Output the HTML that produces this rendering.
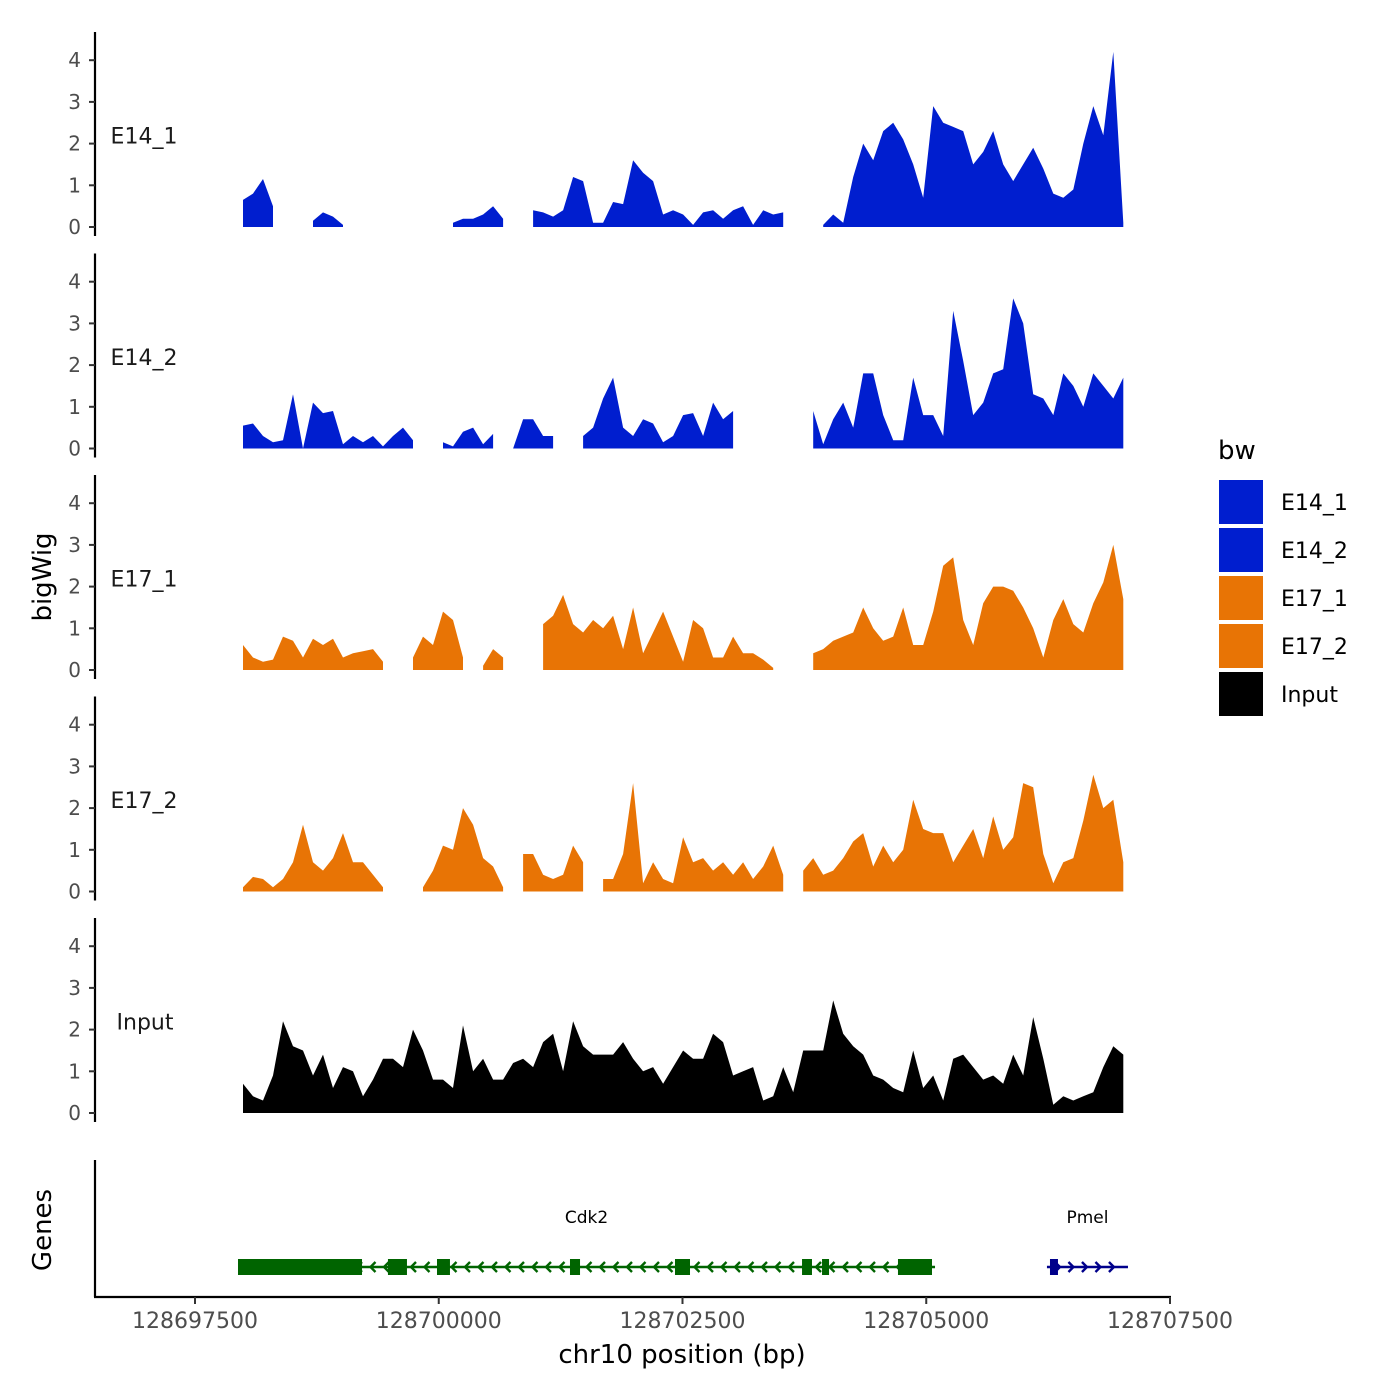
<!DOCTYPE html>
<html><head><meta charset="utf-8"><style>
body{margin:0;background:#fff;}
svg{display:block;font-family:"DejaVu Sans","Liberation Sans",sans-serif;}
</style></head><body>
<svg id="chart" width="1400" height="1400" viewBox="0 0 1400 1400"></svg>
<script>
// ---- data ----
const trackNames = ["E14_1","E14_2","E17_1","E17_2","Input"];
const trackColors = ["#001ecf","#001ecf","#e87405","#e87405","#000000"];
const binStartBp = 128697992;
const binStepBp = 102.6;
const yTicks = [0,1,2,3,4];
const xTicks = [128697500,128700000,128702500,128705000,128707500];
const N = null;
const e14_1 = [0.65,0.8,1.15,0.5,N,N,N,0.15,0.35,0.25,0.05,N,N,N,N,N,N,N,N,N,N,0.1,0.2,0.2,0.3,0.5,0.2,N,N,0.4,0.35,0.25,0.4,1.2,1.1,0.1,0.1,0.6,0.55,1.6,1.3,1.1,0.3,0.4,0.3,0.05,0.35,0.4,0.2,0.4,0.5,0.05,0.4,0.3,0.35,N,N,N,0.05,0.3,0.1,1.2,2.0,1.6,2.3,2.5,2.1,1.5,0.7,2.9,2.5,2.4,2.3,1.5,1.8,2.3,1.5,1.1,1.5,1.9,1.4,0.8,0.7,0.9,2.0,2.9,2.2,4.2,0.1];
const e14_2 = [0.55,0.6,0.3,0.15,0.2,1.3,0,1.1,0.85,0.9,0.1,0.3,0.15,0.3,0.05,0.3,0.5,0.2,N,N,0.15,0.05,0.4,0.5,0.1,0.35,N,0,0.7,0.7,0.3,0.3,N,N,0.3,0.5,1.2,1.7,0.5,0.3,0.7,0.6,0.15,0.3,0.8,0.85,0.3,1.1,0.7,0.9,N,N,N,N,N,N,N,0.9,0.1,0.7,1.1,0.5,1.8,1.8,0.8,0.2,0.2,1.7,0.8,0.8,0.3,3.3,2.1,0.8,1.1,1.8,1.9,3.6,3.0,1.3,1.2,0.8,1.8,1.5,1.0,1.8,1.5,1.2,1.7];
const e17_1 = [0.6,0.3,0.2,0.25,0.8,0.7,0.3,0.75,0.6,0.75,0.3,0.4,0.45,0.5,0.2,N,N,0.3,0.8,0.6,1.4,1.2,0.3,N,0.1,0.5,0.3,N,N,N,1.1,1.3,1.8,1.1,0.9,1.2,1.0,1.3,0.5,1.5,0.4,0.9,1.4,0.8,0.2,1.2,1.0,0.3,0.3,0.8,0.4,0.4,0.25,0.05,N,0.15,N,0.4,0.5,0.7,0.8,0.9,1.5,1.0,0.7,0.8,1.5,0.6,0.6,1.4,2.5,2.7,1.2,0.6,1.6,2.0,2.0,1.9,1.5,1.0,0.3,1.2,1.7,1.1,0.9,1.6,2.1,3.0,1.7];
const e17_2 = [0.1,0.35,0.3,0.1,0.3,0.7,1.6,0.7,0.5,0.8,1.4,0.7,0.7,0.4,0.1,N,N,N,0.1,0.5,1.1,1.0,2.0,1.6,0.8,0.6,0.1,N,0.9,0.9,0.4,0.3,0.4,1.1,0.7,N,0.3,0.3,0.9,2.6,0.2,0.7,0.3,0.2,1.3,0.7,0.8,0.5,0.7,0.4,0.7,0.3,0.6,1.1,0.4,N,0.5,0.8,0.4,0.5,0.8,1.2,1.4,0.6,1.1,0.7,1.0,2.2,1.5,1.4,1.4,0.7,1.1,1.5,0.8,1.8,1.0,1.3,2.6,2.5,0.9,0.2,0.7,0.8,1.7,2.8,2.0,2.2,0.7];
const input = [0.7,0.4,0.3,0.9,2.2,1.6,1.5,0.9,1.4,0.6,1.1,1.0,0.4,0.8,1.3,1.3,1.1,2.0,1.5,0.8,0.8,0.6,2.1,1.0,1.3,0.8,0.8,1.2,1.3,1.1,1.7,1.9,1.0,2.2,1.6,1.4,1.4,1.4,1.7,1.3,1.0,1.1,0.7,1.1,1.5,1.3,1.3,1.9,1.7,0.9,1.0,1.1,0.3,0.4,1.1,0.5,1.5,1.5,1.5,2.7,1.9,1.6,1.4,0.9,0.8,0.6,0.5,1.5,0.6,0.9,0.3,1.3,1.4,1.1,0.8,0.9,0.7,1.4,0.9,2.3,1.3,0.2,0.4,0.3,0.4,0.5,1.1,1.6,1.4];
const trackValues = [e14_1,e14_2,e17_1,e17_2,input];
// genes
const cdk2Range = [128697941,128705090];
const cdk2Exons = [[128697941,128699213],[128699479,128699674],[128699982,128700115],[128701346,128701449],[128702423,128702577],[128703726,128703828],[128703931,128704003],[128704710,128705059]];
const pmelRange = [128706238,128707069];
const pmelExons = [[128706269,128706351]];

// ---- scales ----
const NS="http://www.w3.org/2000/svg";
const svg=document.getElementById('chart');
function xS(bp){return 195+(bp-128697500)*0.0975;}
const panelTop0=32, panelH=204, panelStep=221.5, unit=41.7;
function y0(i){return 227+i*panelStep;}
function yS(i,v){return y0(i)-v*unit;}
function mk(tag,attrs,parent){const e=document.createElementNS(NS,tag);for(const k in attrs)e.setAttribute(k,attrs[k]);(parent||svg).appendChild(e);return e;}
function txt(s,attrs,parent){const e=mk('text',attrs,parent);e.textContent=s;return e;}

trackNames.forEach((name,i)=>{
  const g=mk('g',{});
  
  
  const vals=trackValues[i];
  let seg=[];
  const segs=[];
  vals.forEach((v,j)=>{ if(v===null){if(seg.length)segs.push(seg);seg=[];} else seg.push([binStartBp+j*binStepBp,v]); });
  if(seg.length)segs.push(seg);
  segs.forEach(s=>{
    let d='M'+xS(s[0][0]).toFixed(1)+','+y0(i);
    s.forEach(p=>{d+=' L'+xS(p[0]).toFixed(1)+','+yS(i,p[1]).toFixed(1);});
    d+=' L'+xS(s[s.length-1][0]).toFixed(1)+','+y0(i)+' Z';
    const a=mk('path',{d:d,fill:trackColors[i]},g);
    
    
  });
  const top=panelTop0+i*panelStep;
  const ax=mk('line',{x1:95,x2:95,y1:top,y2:top+panelH,stroke:'#000','stroke-width':2.2},g);
  
  
  yTicks.forEach(t=>{
    const y=yS(i,t);
    mk('line',{x1:89,x2:95,y1:y,y2:y,stroke:'#333','stroke-width':2},g);
    const tl=txt(String(t),{x:81,y:y+7,'text-anchor':'end','font-size':20,fill:'#4d4d4d'},g);
    
    
  });
  const lb=txt(name,{x:name==='Input'?145:144,y:yS(i,2.2)+8,'text-anchor':'middle','font-size':22,fill:'#1a1a1a'},g);
  
  
});

const yt=txt('bigWig',{x:0,y:0,transform:'translate(51,577) rotate(-90)','text-anchor':'middle','font-size':26,fill:'#000'});



const gp=mk('g',{});


mk('line',{x1:95,x2:95,y1:1160,y2:1297,stroke:'#000','stroke-width':2.2},gp);
mk('line',{x1:94,x2:1171,y1:1297,y2:1297,stroke:'#000','stroke-width':2.2},gp);
const gt=txt('Genes',{x:0,y:0,transform:'translate(51,1230) rotate(-90)','text-anchor':'middle','font-size':26,fill:'#000'},gp);


xTicks.forEach(t=>{
  const x=xS(t);
  mk('line',{x1:x,x2:x,y1:1297,y2:1304,stroke:'#333','stroke-width':2},gp);
  const l=txt(String(t),{x:x,y:1328,'text-anchor':'middle','font-size':22,fill:'#4d4d4d'},gp);
  
  
});
const xt=txt('chr10 position (bp)',{x:682,y:1363,'text-anchor':'middle','font-size':26,fill:'#000'},gp);



function drawGene(name,range,exons,color,dir){
  const g=mk('g',{},gp);
  
  
  const yc=1267;
  const x1=xS(range[0]),x2=xS(range[1]);
  mk('line',{x1:x1,x2:x2,y1:yc,y2:yc,stroke:color,'stroke-width':2.5},g);
  for(let x=x1+12;x<x2-6;x+=13.5){
    const d=dir<0?`M${x+4},${yc-5} L${x-1},${yc} L${x+4},${yc+5}`:`M${x-4},${yc-5} L${x+1},${yc} L${x-4},${yc+5}`;
    mk('path',{d:d,stroke:color,'stroke-width':2.4,fill:'none'},g);
  }
  exons.forEach(e=>{
    const r=mk('rect',{x:xS(e[0]),y:yc-8,width:Math.max(4,xS(e[1])-xS(e[0])),height:16,fill:color},g);
    
    
  });
  const l=txt(name,{x:(x1+x2)/2,y:1223,'text-anchor':'middle','font-size':17,fill:'#000'},g);
  
  
}
drawGene('Cdk2',cdk2Range,cdk2Exons,'#006400',-1);
drawGene('Pmel',pmelRange,pmelExons,'#00008b',1);

const lg=mk('g',{});


const ltitle=txt('bw',{x:1218,y:459,'font-size':26,fill:'#000'},lg);


trackNames.forEach((n,i)=>{
  const y=480+i*48;
  const e=mk('g',{},lg);
  
  
  mk('rect',{x:1219,y:y,width:44,height:44,fill:trackColors[i]},e);
  txt(n,{x:1281,y:y+30,'font-size':22,fill:'#000'},e);
});
</script>
</body></html>
